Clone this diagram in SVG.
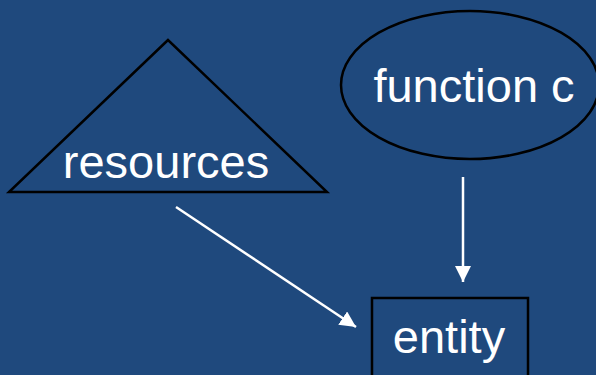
<svg xmlns="http://www.w3.org/2000/svg" width="596" height="375" viewBox="0 0 596 375">
<defs>
<style>
.shape{fill:#1F497D;stroke:#000;stroke-width:2.5}
.lbl{fill:#fff;font-family:"Liberation Sans",Arial,sans-serif;font-size:47px;text-anchor:middle}
.conn{stroke:#fff;stroke-width:2.5;fill:none}
</style>
<marker id="ah" viewBox="0 0 10 10" refX="10" refY="5" markerWidth="6.4" markerHeight="6.4" orient="auto" markerUnits="strokeWidth">
<path d="M0,0 L10,5 L0,10 Z" fill="#fff"/>
</marker>
</defs>
<rect width="596" height="375" fill="#1F497D"/>
<g id="resources">
<polygon class="shape" points="168,40 9,192 327,192"/>
<text class="lbl" x="166" y="178">resources</text>
</g>
<g id="function-c">
<ellipse class="shape" cx="470" cy="85" rx="129" ry="74"/>
<text class="lbl" x="474" y="102">function c</text>
</g>
<g id="entity">
<rect class="shape" x="372" y="298" width="156" height="90"/>
<text class="lbl" x="449" y="353">entity</text>
</g>
<g id="connectors">
<line class="conn" x1="176" y1="207" x2="356" y2="327" marker-end="url(#ah)"/>
<line class="conn" x1="463" y1="177" x2="463" y2="282" marker-end="url(#ah)"/>
</g>
</svg>
